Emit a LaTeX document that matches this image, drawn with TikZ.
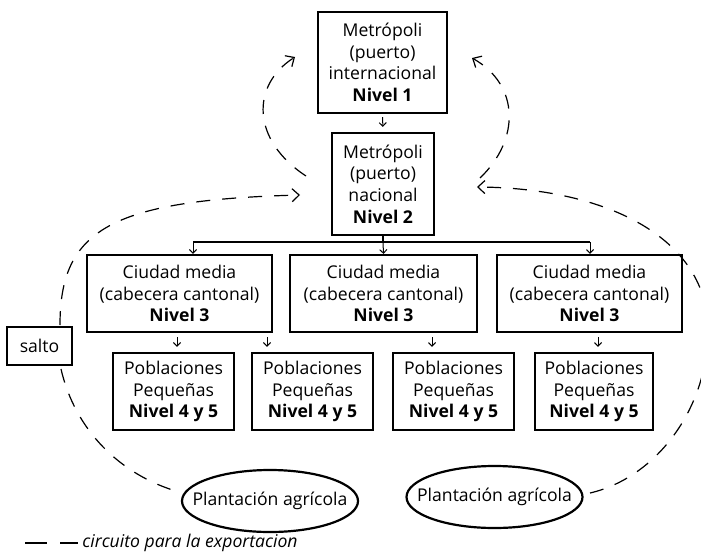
\documentclass[tikz,border=0pt]{standalone}
\usepackage{fontspec}
\setmainfont{Open Sans}
\usetikzlibrary{arrows.meta,shapes.geometric,calc}
\begin{document}
\begin{tikzpicture}[x=0.5pt,y=-0.5pt,
  txt/.style={font=\fontsize{8.8}{10.8}\selectfont},
  box/.style={draw,line width=1.1pt,align=center,inner sep=0pt,txt},
  oval/.style={draw,line width=1.1pt,ellipse,inner xsep=-8.5pt,inner ysep=0pt,minimum width=88pt,minimum height=31pt,txt},
  circuit/.style={line width=0.6pt,dash pattern=on 7pt off 6pt},
  bigtip/.style={-{Straight Barb[length=3.5pt,width=6.5pt]}},
  small/.style={line width=0.5pt,-{Straight Barb[length=1.8pt,width=3.6pt]}},
  bus/.style={line width=0.6pt}
]
\useasboundingbox (0,0) rectangle (701,556);

% boxes
\node[box,minimum width=64.5pt,minimum height=50.5pt] (B1) at (382.5,62.5)
  {Metrópoli\\(puerto)\\internacional\\\textbf{Nivel 1}};
\node[box,minimum width=51pt,minimum height=51pt] (B2) at (383,184)
  {Metrópoli\\(puerto)\\nacional\\\textbf{Nivel 2}};
\node[box,minimum width=92.5pt,minimum height=38.5pt] (B3a) at (179.5,293.5)
  {Ciudad media\\(cabecera cantonal)\\\textbf{Nivel 3}};
\node[box,minimum width=93.5pt,minimum height=38.5pt] (B3b) at (383.5,293.5)
  {Ciudad media\\(cabecera cantonal)\\\textbf{Nivel 3}};
\node[box,minimum width=92.5pt,minimum height=38.5pt] (B3c) at (589.5,293.5)
  {Ciudad media\\(cabecera cantonal)\\\textbf{Nivel 3}};
\node[box,minimum width=60.5pt,minimum height=38.5pt] (B4a) at (173.5,391.5)
  {Poblaciones\\Pequeñas\\\textbf{Nivel 4 y 5}};
\node[box,minimum width=60.5pt,minimum height=38.5pt] (B4b) at (312.5,391.5)
  {Poblaciones\\Pequeñas\\\textbf{Nivel 4 y 5}};
\node[box,minimum width=60.5pt,minimum height=38.5pt] (B4c) at (453.5,391.5)
  {Poblaciones\\Pequeñas\\\textbf{Nivel 4 y 5}};
\node[box,minimum width=59pt,minimum height=38.5pt] (B4d) at (594,391.5)
  {Poblaciones\\Pequeñas\\\textbf{Nivel 4 y 5}};
\node[box,minimum width=32.5pt,minimum height=19pt] (salto) at (39.5,346) {salto};
\node[oval] (E1) at (270,501) {Plantación agrícola};
\node[oval] (E2) at (494.5,497) {Plantación agrícola};

% hierarchy connectors
\draw[small,shorten <=1.5pt,shorten >=2.5pt] (B1.south) -- (B2.north);
\coordinate (busL) at (193,242);
\coordinate (busR) at (590,242);
\coordinate (busM) at (B2.south |- busL);
\draw[bus] (busL) -- (busR);
\draw[bus] (B2.south) -- (busM);
\draw[small] (busL) -- (busL |- B3a.north);
\draw[small] (busM) -- (B3b.north);
\draw[small] (busR) -- (busR |- B3c.north);

\draw[small,shorten <=2pt,shorten >=2.5pt] ([xshift=1.75pt]B4a.north |- B3a.south) -- ([xshift=1.75pt]B4a.north);
\draw[small,shorten <=2pt,shorten >=2.5pt] ([xshift=-22.75pt]B4b.north |- B3a.south) -- ([xshift=-22.75pt]B4b.north);
\draw[small,shorten <=2pt,shorten >=2.5pt] ([xshift=-10.75pt]B4c.north |- B3b.south) -- ([xshift=-10.75pt]B4c.north);
\draw[small,shorten <=2pt,shorten >=2.5pt] ([xshift=2pt]B4d.north |- B3c.south) -- ([xshift=2pt]B4d.north);

% export circuit
\coordinate (l1s) at (306,176);
\coordinate (l1e) at (295,57);
\draw[circuit,bigtip] (l1s) .. controls (251,140) and (251,85) .. (l1e);
\coordinate (r1s) at (480,178);
\coordinate (r1e) at (472,58);
\draw[circuit,bigtip] (r1s) .. controls (520,140) and (520,85) .. (r1e);

\coordinate (ll1) at (61,369);
\coordinate (ll2) at (179,492);
\draw[circuit] (ll1) .. controls (75,430) and (120,475) .. (ll2);
\coordinate (lu1) at (60,325);
\coordinate (lu2) at (300,195);
\draw[circuit,bigtip] (lu1) .. controls (60,230) and (110,200) .. (lu2);

\coordinate (rr1) at (590,493);
\coordinate (rrm) at (708,330);
\coordinate (rr2) at (477,187);
\draw[circuit,bigtip] (rr1) .. controls (655,478) and (708,410) .. (rrm)
  .. controls (708,240) and (610,188) .. (rr2);

% legend
\coordinate (leg1) at (25,543);
\coordinate (leg2) at (78,543);
\draw[line width=0.6pt,dash pattern=on 11pt off 6.5pt] (leg1) -- (leg2);
\node[txt,anchor=base west,inner sep=0pt] (legtext) at (82,547) {\itshape circuito para la exportacion};
\end{tikzpicture}
\end{document}
